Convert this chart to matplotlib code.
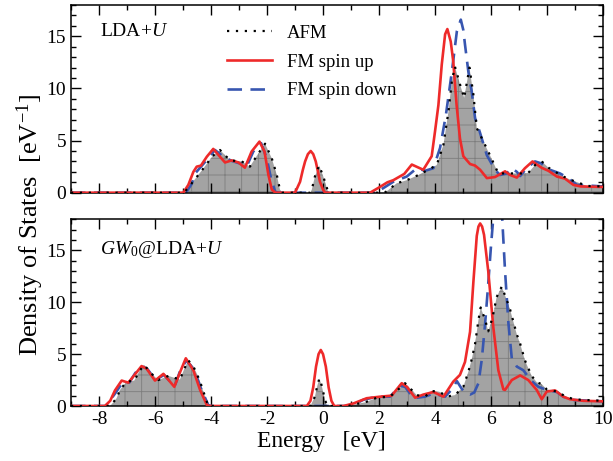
import matplotlib
matplotlib.use("Agg")
import matplotlib.pyplot as plt
from matplotlib.ticker import MultipleLocator

plt.rcParams['font.family'] = ['Liberation Serif', 'DejaVu Serif']
plt.rcParams['mathtext.fontset'] = 'custom'
plt.rcParams['mathtext.rm'] = 'Liberation Serif'
plt.rcParams['mathtext.it'] = 'Liberation Serif:italic'
plt.rcParams['axes.unicode_minus'] = False
plt.rcParams['hatch.linewidth'] = 0.6

# ---- LDA+U ----
lda_afm_e = [-9, -4.95, -4.87, -4.6, -4.28, -3.95, -3.68, -3.32, -2.9, -2.61, -2.35, -2.07, -1.83,
             -1.65, -1.54, -1.45, -0.45, -0.4, -0.29, -0.14, 0.01, 0.19, 2.2, 2.33, 2.63, 2.99,
             3.41, 3.76, 4.06, 4.3, 4.48, 4.6, 4.71, 4.89, 5.04, 5.23, 5.37, 5.49, 5.73, 5.96,
             6.26, 6.68, 7.1, 7.33, 7.57, 7.81, 8.05, 8.29, 8.58, 8.88, 9.18, 9.42, 10]
lda_afm_dos = [0, 0, 0.3, 1.2, 2.3, 3.5, 4.1, 3.1, 3.0, 2.5, 3.6, 4.7, 3.3,
               1.7, 0.3, 0, 0, 0.3, 1.55, 2.6, 1.55, 0, 0, 0.25, 0.9, 1.2,
               1.7, 2.2, 2.65, 4.6, 7.8, 10.7, 12.1, 10.4, 9.1, 12.0, 9.4, 6.2, 4.9, 3.6,
               1.85, 1.85, 1.85, 1.9, 2.65, 3.0, 2.4, 2.0, 1.55, 1.2, 0.9, 0.65, 0.6]

lda_up_e = [-9, -4.99, -4.81, -4.63, -4.51, -4.36, -4.15, -3.92, -3.68, -3.5, -3.26, -3.02, -2.79,
            -2.55, -2.27, -2.09, -1.95, -1.83, -1.7, -1.0, -0.82, -0.72, -0.64, -0.54, -0.44,
            -0.35, -0.26, -0.18, -0.11, 0.0, 0.07,
            1.68, 2.0, 2.3, 2.51, 2.9, 3.17, 3.58, 3.88, 4.0, 4.12, 4.24, 4.36, 4.44, 4.56, 4.65,
            4.77, 4.89, 5.01, 5.25, 5.43, 5.61, 5.85, 6.14, 6.5, 6.68, 6.92, 7.21, 7.48, 7.8,
            8.05, 8.35, 8.64, 8.94, 9.2, 10]
lda_up_dos = [0, 0, 0.75, 2.0, 2.5, 2.6, 3.45, 4.2, 3.45, 2.9, 3.1, 2.9, 2.4,
              3.95, 4.9, 3.95, 1.7, 0.3, 0, 0, 1.05, 2.2, 3.0, 3.7, 4.0,
              3.7, 3.0, 2.0, 1.05, 0.3, 0,
              0, 0.5, 1.0, 1.2, 1.8, 2.7, 2.2, 3.5, 5.9, 8.4, 12.3, 15.2, 15.7, 14.5, 12.6,
              8.4, 5.2, 3.5, 2.75, 2.6, 2.2, 1.4, 1.5, 2.05, 1.7, 1.45, 2.35, 3.0, 2.4,
              2.1, 1.55, 1.35, 0.75, 0.6, 0.55]

lda_dn_e = [-9, -4.9, -4.7, -4.55, -4.39, -4.1, -3.86, -3.56, -3.26, -2.96, -2.73, -2.49, -2.21,
            -2.01, -1.86, -1.71, -1.6, 1.98, 2.04, 2.51, 2.99, 3.35, 3.64, 3.94, 4.18, 4.39, 4.6,
            4.78, 4.92, 5.01, 5.07, 5.19, 5.31, 5.43, 5.6, 5.85, 6.14, 6.32, 6.56, 6.74, 6.92,
            7.04, 7.27, 7.57, 7.81, 8.1, 8.46, 8.76, 9.06, 10]
lda_dn_dos = [0, 0, 0.8, 1.9, 2.4, 3.3, 4.1, 3.45, 3.05, 2.8, 2.5, 3.95, 4.75,
              3.3, 1.4, 0.1, 0, 0, 0.25, 1.05, 1.55, 2.35, 2.1, 2.35, 4.3, 7.5, 11.6,
              15.5, 16.6, 15.6, 14.2, 11.6, 9.7, 7.15, 5.8, 3.6, 2.2, 1.7, 1.85, 2.35, 2.0,
              1.6, 2.35, 3.0, 2.8, 2.2, 1.85, 1.4, 0.75, 0.6]

# ---- GW0@LDA+U ----
gw_afm_e = [-9, -7.6, -7.37, -7.25, -7.01, -6.74, -6.55, -6.38, -6.18, -5.88, -5.52, -5.11, -4.95,
            -4.81, -4.63, -4.51, -4.36, -4.21, -4.1, -0.45, -0.29, -0.2, -0.13, -0.05, 0.07, 0.15,
            0.9, 1.2, 1.5, 1.92, 2.39, 2.63, 2.93, 3.11, 3.35, 3.64, 3.88, 4.18, 4.41, 4.71, 5.01,
            5.19, 5.31, 5.43, 5.55, 5.63, 5.79, 5.9, 6.05, 6.2, 6.38, 6.55, 6.68, 6.92, 7.04,
            7.21, 7.45, 7.63, 7.81, 7.99, 8.35, 8.64, 8.9, 9.2, 10]
gw_afm_dos = [0, 0, 0.75, 1.55, 2.35, 2.45, 3.4, 3.95, 3.25, 2.5, 2.9, 2.55, 3.6,
              4.4, 3.8, 3.15, 2.1, 0.9, 0, 0, 0.9, 2.0, 2.65, 2.0, 0.6, 0,
              0, 0.2, 0.35, 0.8, 0.9, 1.45, 2.2, 1.7, 1.05, 0.9, 1.45, 1.35, 0.9, 1.05, 1.85,
              3.3, 4.5, 6.0, 8.3, 9.5, 8.3, 7.2, 8.5, 10.5, 11.5, 10.3, 9.3, 6.9, 6.0,
              4.4, 2.9, 2.3, 2.1, 1.6, 1.4, 0.95, 0.7, 0.6, 0.5]

gw_up_e = [-9, -7.79, -7.6, -7.43, -7.19, -6.95, -6.7, -6.48, -6.3, -6.0, -5.7, -5.31, -5.1,
           -4.9, -4.63, -4.39, -4.15, -4.05, -0.58, -0.45, -0.35, -0.25, -0.16, -0.08, 0.0,
           0.1, 0.2, 0.3, 0.4,
           0.73, 1.09, 1.56, 2.04, 2.45, 2.81, 2.99, 3.29, 3.58, 3.94, 4.3, 4.65, 4.89, 5.07,
           5.25, 5.37, 5.49, 5.55, 5.61, 5.68, 5.75, 5.9, 6.08, 6.26, 6.44, 6.5, 6.74, 7.04,
           7.33, 7.63, 7.81, 7.99, 8.29, 8.58, 8.82, 9.3, 10]
gw_up_dos = [0, 0, 0.5, 1.5, 2.45, 2.25, 3.1, 3.85, 3.6, 2.45, 3.1, 1.85, 3.3,
             4.6, 3.45, 1.55, 0.1, 0, 0, 0.5, 1.8, 3.8, 5.0, 5.4, 5.0,
             3.8, 1.8, 0.5, 0,
             0, 0.25, 0.75, 0.9, 1.0, 2.2, 1.85, 0.8, 1.1, 1.35, 0.9, 2.35, 3.0, 4.25,
             7.15, 12.0, 16.4, 17.3, 17.6, 17.3, 16.5, 13.0, 7.6, 3.45, 1.6, 1.55, 2.5, 2.95,
             2.5, 1.55, 0.65, 1.4, 1.5, 0.9, 0.65, 0.5, 0.45]

gw_dn_e = [-9, -7.75, -7.4, -7.15, -6.92, -6.7, -6.45, -6.28, -5.98, -5.68, -5.3, -5.1, -4.88,
           -4.6, -4.36, -4.1, -4.0, 1.0, 1.44, 1.92, 2.39, 2.75, 2.93, 3.23, 3.64, 3.94, 4.36,
           4.6, 4.78, 4.92, 5.05, 5.25, 5.4, 5.55, 5.67, 5.79, 5.9, 6.0, 6.1, 6.24, 6.38, 6.5,
           6.62, 6.74, 6.92, 7.15, 7.45, 7.69, 7.99, 8.35, 8.58, 8.82, 10]
gw_dn_dos = [0, 0, 1.3, 2.3, 2.25, 3.2, 3.8, 3.6, 2.5, 3.0, 1.9, 3.4, 4.4,
             3.5, 1.7, 0.1, 0, 0, 0.6, 0.9, 0.9, 1.95, 1.85, 0.75, 0.9, 1.2, 0.9,
             1.6, 2.4, 1.8, 1.3, 1.1, 1.3, 2.2, 4.5, 8.0, 11.8, 15.5, 18.8, 21.0, 19.0, 13.0,
             8.0, 4.6, 3.8, 3.45, 2.4, 1.85, 1.55, 1.35, 0.9, 0.6, 0.45]

panel_titles = [r"LDA+$U$", r"$GW_0$@LDA+$U$"]
legend_labels = ["AFM", "FM spin up", "FM spin down"]
x_ticks = [-8, -6, -4, -2, 0, 2, 4, 6, 8, 10]
y_ticks = [0, 5, 10, 15]

RED = '#ee2a2a'
BLUE = '#3856b0'

fig = plt.figure(figsize=(6.13, 4.61), dpi=100)
ax_top = fig.add_axes([0.1158, 0.582, 0.868, 0.407])
ax_bot = fig.add_axes([0.1158, 0.1193, 0.868, 0.405])

panels = [
    (ax_top, lda_afm_e, lda_afm_dos, lda_up_e, lda_up_dos, lda_dn_e, lda_dn_dos),
    (ax_bot, gw_afm_e, gw_afm_dos, gw_up_e, gw_up_dos, gw_dn_e, gw_dn_dos),
]

for i, (ax, ae, ad, ue, ud, de, dd) in enumerate(panels):
    ax.fill_between(ae, 0, ad, facecolor='#a3a3a3', edgecolor='#7d7d7d',
                    hatch='+', linewidth=0, zorder=1)
    l_dn, = ax.plot(de, dd, color=BLUE, lw=1.9, ls=(0, (5.5, 3.2)), zorder=2)
    l_up, = ax.plot(ue, ud, color=RED, lw=1.9, zorder=3)
    l_afm, = ax.plot(ae, ad, color='black', lw=1.6, ls=(0, (1, 3)), zorder=4)

    ax.set_xlim(-9, 10)
    ax.set_ylim(0, 18)
    ax.set_xticks(x_ticks)
    ax.set_yticks(y_ticks)
    ax.xaxis.set_minor_locator(MultipleLocator(1))
    ax.yaxis.set_minor_locator(MultipleLocator(1))
    ax.tick_params(which='both', direction='in', top=True, right=True, width=1,
                   labelsize=14)
    ax.tick_params(which='major', length=7)
    ax.tick_params(which='minor', length=3.5)
    for sp in ax.spines.values():
        sp.set_linewidth(1.1)

    ax.text(0.055, 0.858 if i == 0 else 0.836, panel_titles[i], transform=ax.transAxes,
            fontsize=14, va='center', ha='left')

    if i == 0:
        ax.tick_params(labelbottom=False)
        ax.legend([l_afm, l_up, l_dn], legend_labels, loc='upper left',
                  bbox_to_anchor=(0.293, 0.895), frameon=False, fontsize=13.5,
                  borderpad=0, borderaxespad=0, handlelength=2.4,
                  handletextpad=0.8, labelspacing=0.62)

fig.text(0.524, 0.043, "Energy   [eV]", ha='center', va='center', fontsize=17)
fig.text(0.049, 1 - 225 / 461, r"Density of States  [eV$^{-1}$]", ha='center',
         va='center', rotation=90, fontsize=19)

fig.savefig("out.png", dpi=100)
